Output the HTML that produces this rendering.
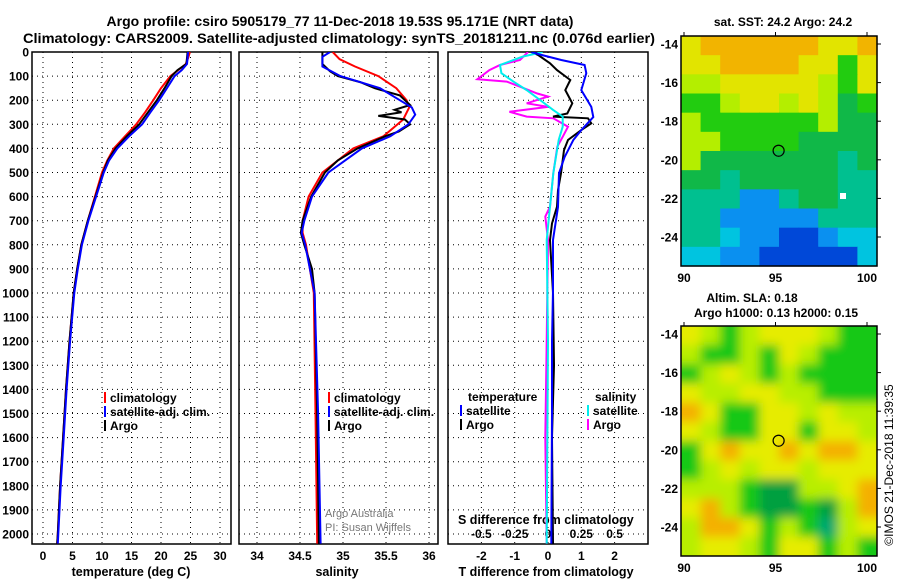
<!DOCTYPE html>
<html><head><meta charset="utf-8"><style>
html,body{margin:0;padding:0;background:#fff}
svg{display:block;font-family:"Liberation Sans",sans-serif;font-weight:bold}
</style></head><body>
<svg id="chart" width="900" height="580" viewBox="0 0 900 580" xmlns="http://www.w3.org/2000/svg">
<defs>
<clipPath id="c1"><rect x="32" y="52" width="199" height="492"/></clipPath>
<clipPath id="c2"><rect x="239" y="52" width="199" height="492"/></clipPath>
<clipPath id="c3"><rect x="448" y="52" width="200" height="492"/></clipPath>
<clipPath id="cm2"><rect x="681" y="326" width="196" height="230"/></clipPath>
<filter id="blur" x="-10%" y="-10%" width="120%" height="120%"><feGaussianBlur stdDeviation="5"/></filter>
</defs>
<text x="340" y="26" font-size="14" text-anchor="middle">Argo profile: csiro 5905179_77 11-Dec-2018 19.53S 95.171E (NRT data)</text>
<text x="23" y="43" font-size="13.5" textLength="632" lengthAdjust="spacingAndGlyphs">Climatology: CARS2009. Satellite-adjusted climatology: synTS_20181211.nc (0.076d earlier)</text>
<g id="axes"></g>
<g id="series"></g>
<g id="maps"></g>
</svg>
<script>
// ---- Temperature panel data ----
const tempDepth = [0,25,50,75,100,150,200,250,300,350,400,450,500,600,700,800,900,1000,1200,1400,1600,1800,2000,2040];
const tempArgo  = [24.5,24.4,24.3,22.8,21.8,20.6,19.3,17.8,16.3,14.2,12.3,11.0,10.2,8.9,7.6,6.5,5.8,5.2,4.5,3.9,3.4,2.9,2.5,2.4];
const tempSat   = [24.6,24.5,24.4,23.5,22.3,21.0,19.7,18.2,16.8,14.6,12.6,11.2,10.3,9.0,7.7,6.6,5.9,5.3,4.6,4.0,3.5,3.0,2.6,2.5];
const tempClim  = [24.9,24.6,24.2,22.9,21.6,20.0,18.7,17.3,15.8,13.9,12.0,10.9,10.0,8.8,7.6,6.5,5.8,5.2,4.5,3.9,3.4,2.9,2.5,2.4];
// ---- Salinity panel data ----
const salArgoDepth = [0,50,80,100,125,150,180,200,220,240,250,265,280,300,330,350,400,450,500,600,700,750,800,900,1000,1500,2040];
const salArgo      = [34.76,34.76,34.85,34.94,35.2,35.37,35.66,35.72,35.78,35.6,35.68,35.41,35.72,35.78,35.65,35.49,35.17,34.94,34.79,34.63,34.53,34.51,34.55,34.64,34.67,34.70,34.72];
const salSatDepth  = [0,20,60,100,150,200,230,260,300,350,400,500,600,700,750,800,1000,1500,2040];
const salSat       = [34.85,34.76,34.76,34.97,35.43,35.66,35.8,35.84,35.76,35.55,35.22,34.83,34.64,34.55,34.52,34.56,34.67,34.71,34.74];
const salClimDepth = [0,30,60,100,150,200,230,280,350,400,500,600,700,750,800,1000,1500,2040];
const salClim      = [34.88,34.96,35.14,35.41,35.62,35.74,35.77,35.70,35.47,35.12,34.76,34.6,34.53,34.53,34.57,34.66,34.68,34.70];
// ---- Difference panel data ----
const tdSatDepth  = [0,12,33,54,88,158,228,270,324,365,436,503,643,780,988,1200,1500,2040];
const tdSat       = [-0.5,-0.2,0.4,1.1,1.15,1.0,1.3,1.36,1.0,0.76,0.5,0.33,0.3,0.15,0.15,0.12,0.12,0.1];
const tdArgoDepth = [0,12,47,75,116,158,213,255,268,275,296,324,365,407,503,573,642,711,780,1000,1300,1600,2040];
const tdArgo      = [-0.5,-0.3,0.06,0.27,0.67,0.52,0.73,0.58,0.15,1.2,1.3,1.0,0.6,0.48,0.39,0.3,0.27,0.12,0.06,0.15,0.18,0.12,0.15];
const sdArgoDepth = [0,33,54,75,113,123,144,172,185,213,228,248,268,275,310,352,393,503,642,683,780,1200,1600,2040];
const sdArgo      = [-0.15,-0.21,-0.36,-0.44,-0.53,-0.31,-0.21,-0.08,0,-0.16,0,-0.29,-0.16,0.04,0.15,0.11,0.07,0.04,0.015,-0.02,0,-0.01,-0.02,-0.01];
const sdSatDepth  = [0,19,54,88,123,158,199,241,268,310,365,503,642,780,1200,2040];
const sdSat       = [-0.04,-0.19,-0.36,-0.35,-0.26,-0.16,-0.06,0.04,0.11,0.11,0.08,0.04,0.015,-0.01,0,-0.01];
// ---- Tick labels ----
const depthTicks = [0,100,200,300,400,500,600,700,800,900,1000,1100,1200,1300,1400,1500,1600,1700,1800,1900,2000];
const tempTicks = [0,5,10,15,20,25,30];
const salTicks = [34,34.5,35,35.5,36];
const tdTicks = [-2,-1,0,1,2];
const sdTicks = [-0.5,-0.25,0,0.25,0.5];
const sdTickLabels = ["-0.5","-0.25","0","0.25","0.5"];
const lonTicks = [90,95,100];
const latTicks = [-14,-16,-18,-20,-22,-24];
// ---- Map colour grids (10 lon x 12 lat cells) ----
const sstGrid = ["YOOOOOOYYO","YYOOOOYYGY","LLYYYYYLGY","GGLYYLYLDG","LGGGGGGLDD","LLGGGGDDDD","LDDDDDDDTD","DDTDDDDDTT","TTTBBTDDTT","TTBBBBBTTT","TTCBBNNBCC","CCBBNNNNNC"];
const slaGrid = ["YLGLYYYLGG","LGGLGYLGGG","GLYLGLGGGG","YLLYYLLGGG","OYGGYYLYLL","YLGGYYGYYL","GYOYYOYOOY","GLYLYYLYYY","LLLGDDLLYO","YOLGDDGDLO","LOOYGLGTLY","LYYLGYYGLG"];
const argoLon = 95.17, argoLat = -19.53;

const NS="http://www.w3.org/2000/svg";
function mk(tag, attrs, parent){const e=document.createElementNS(NS,tag);for(const k in attrs)e.setAttribute(k,attrs[k]);parent.appendChild(e);return e;}
const axes=document.getElementById('axes'), series=document.getElementById('series'), maps=document.getElementById('maps');
const yD = d => 52 + d*0.241;
const xT = t => 43 + t*5.9;
const xS = s => 257 + (s-34)*86;
const xTD = t => 548 + t*33.3;
const xSD = s => 548 + s*133.2;

const panels=[{x:32,name:'temperature-panel'},{x:239,name:'salinity-panel'},{x:448,name:'difference-panel'}];
const pw=[199,199,200];
panels.forEach((p,i)=>{
  const g=mk('g',{},axes);
  
  
  depthTicks.forEach(d=>{ if(d>0) mk('line',{x1:p.x,x2:p.x+pw[i],y1:yD(d),y2:yD(d),stroke:'#000','stroke-width':1,'stroke-dasharray':'1 4'},g);});
  const xs = i==0? tempTicks.map(xT) : i==1? salTicks.map(xS) : tdTicks.map(xTD);
  xs.forEach(x=>mk('line',{x1:x,x2:x,y1:52,y2:544,stroke:'#000','stroke-width':1,'stroke-dasharray':'1 4'},g));
  mk('rect',{x:p.x,y:52,width:pw[i],height:492,fill:'none',stroke:'#000','stroke-width':1.5},g);
});
depthTicks.forEach(d=>{
  const t=mk('text',{x:29,y:yD(d)+4.5,'font-size':12,'text-anchor':'end'},axes);
  t.textContent=d;
  
  
});
function xlabels(vals,labels,fx,y){vals.forEach((v,i)=>{const t=mk('text',{x:fx(v),y:y,'font-size':12,'text-anchor':'middle'},axes);t.textContent=labels[i];
  
  });}
xlabels(tempTicks,tempTicks.map(String),xT,560);
xlabels(salTicks,salTicks.map(String),xS,560);
xlabels(tdTicks,tdTicks.map(String),xTD,560);
xlabels(sdTicks,sdTickLabels,xSD,538);
function txt(s,x,y,size,anchor,name,fill){const t=mk('text',{x:x,y:y,'font-size':size,'text-anchor':anchor||'start',fill:fill||'#000'},axes);t.textContent=s;
  
  return t;}
txt('temperature (deg C)',131,576,12.5,'middle','x-axis-title-temperature');
txt('salinity',337,576,12.5,'middle','x-axis-title-salinity');
txt('T difference from climatology',546,576,12.5,'middle','x-axis-title-t-difference');
txt('S difference from climatology',458,524,12.5,'start','s-difference-axis-title');
txt('Argo Australia',325,517,11,'start','credit-argo-australia','#777').setAttribute('font-weight','normal');
txt('PI: Susan Wijffels',325,531,11,'start','credit-pi','#777').setAttribute('font-weight','normal');

function line(depths,vals,fx,color,clip,name){
  const pts=depths.map((d,i)=>fx(vals[i]).toFixed(1)+','+yD(d).toFixed(1)).join(' ');
  const l=mk('polyline',{points:pts,fill:'none',stroke:color,'stroke-width':2,'clip-path':'url(#'+clip+')'},series);
  
  
}
line(tempDepth,tempClim,xT,'#f00','c1','temperature-climatology-line');
line(tempDepth,tempArgo,xT,'#000','c1','temperature-argo-line');
line(tempDepth,tempSat,xT,'#00f','c1','temperature-satellite-line');
line(salClimDepth,salClim,xS,'#f00','c2','salinity-climatology-line');
line(salArgoDepth,salArgo,xS,'#000','c2','salinity-argo-line');
line(salSatDepth,salSat,xS,'#00f','c2','salinity-satellite-line');
line(sdArgoDepth,sdArgo,xSD,'#f0f','c3','s-diff-argo-line');
line(tdArgoDepth,tdArgo,xTD,'#000','c3','t-diff-argo-line');
line(sdSatDepth,sdSat,xSD,'#0ee','c3','s-diff-satellite-line');
line(tdSatDepth,tdSat,xTD,'#00f','c3','t-diff-satellite-line');

function legend(x,y,color,label,name){
  mk('rect',{x:x,y:y-10,width:2,height:11,fill:color},axes);
  txt(label,x+6,y,12,'start',name);
}
legend(104,402,'#f00','climatology','legend-climatology');
legend(104,416,'#00f','satellite-adj. clim.','legend-satellite-adj');
legend(104,430,'#000','Argo','legend-argo');
legend(328,402,'#f00','climatology','legend-climatology-2');
legend(328,416,'#00f','satellite-adj. clim.','legend-satellite-adj-2');
legend(328,430,'#000','Argo','legend-argo-2');
txt('temperature',468,401,12,'start','legend-temperature-header');
legend(460,415,'#00f','satellite','legend-t-satellite');
legend(460,429,'#000','Argo','legend-t-argo');
txt('salinity',595,401,12,'start','legend-salinity-header');
legend(587,415,'#0ee','satellite','legend-s-satellite');
legend(587,429,'#f0f','Argo','legend-s-argo');

// ---- Maps ----
const pal={O:'#f2b400',Y:'#e2e400',L:'#b4ee00',G:'#22cc10',D:'#10b848',T:'#00c090',C:'#00c4e0',B:'#0a90f0',N:'#0048d8'};
const pal2={O:'#f4b000',Y:'#e6ec00',L:'#b8ee00',G:'#18c818',D:'#00a040',T:'#00a870',C:'#00c4e0',B:'#0a90f0',N:'#0048d8'};
function drawMap(top,grid,p,title,name,blur){
  const x0=681,w=196,h=230,y0=top;
  const lonX=l=>684+(l-90)*18.3, latY=la=>y0+8+(-14-la)*19.3;
  const g=mk('g',{},maps);
  
  
  const inner=mk('g',{'clip-path':blur?'url(#cm2)':''},g);
  const cg=mk('g',blur?{filter:'url(#blur)'}:{},inner);
  const cw=w/10,ch=h/12;
  grid.forEach((row,r)=>{for(let c=0;c<10;c++){mk('rect',{x:x0+c*cw-(blur?12*(c==0):0),y:y0+r*ch-(blur?12*(r==0):0),width:cw+0.6+(blur&&(c==0||c==9)?12:0),height:ch+0.6+(blur&&(r==0||r==11)?12:0),fill:p[row[c]]},cg);}});
  if(!blur){mk('rect',{x:840,y:y0+157,width:6,height:6,fill:'#fff'},g);}
  mk('rect',{x:x0,y:y0,width:w,height:h,fill:'none',stroke:'#000','stroke-width':1.5},g);
  lonTicks.forEach(l=>{mk('line',{x1:lonX(l),x2:lonX(l),y1:y0,y2:y0-4,stroke:'#000'},g);
    const t=mk('text',{x:lonX(l),y:y0+h+16,'font-size':12,'text-anchor':'middle'},g);t.textContent=l;
    
    });
  latTicks.forEach(la=>{mk('line',{x1:x0+w,x2:x0+w+4,y1:latY(la),y2:latY(la),stroke:'#000'},g);
    const t=mk('text',{x:678,y:latY(la)+4.5,'font-size':12,'text-anchor':'end'},g);t.textContent=la;
    
    });
  const c=mk('circle',{cx:lonX(argoLon),cy:latY(argoLat),r:5.5,fill:'none',stroke:'#000','stroke-width':1.2},g);
  
  
}
drawMap(36,sstGrid,pal,'', 'sst-map',false);
drawMap(326,slaGrid,pal2,'', 'sla-map',true);
txt('sat. SST: 24.2 Argo: 24.2',783,26,12,'middle','sst-map-title');
txt('Altim. SLA: 0.18',752,302,12,'middle','sla-map-title');
txt('Argo h1000: 0.13 h2000: 0.15',776,317,12,'middle','sla-map-subtitle');
const r=txt('©IMOS 21-Dec-2018 11:39:35',0,0,12,'middle','timestamp');
r.setAttribute('font-weight','normal');
r.setAttribute('transform','translate(893,465) rotate(-90)');
</script>
</body></html>
